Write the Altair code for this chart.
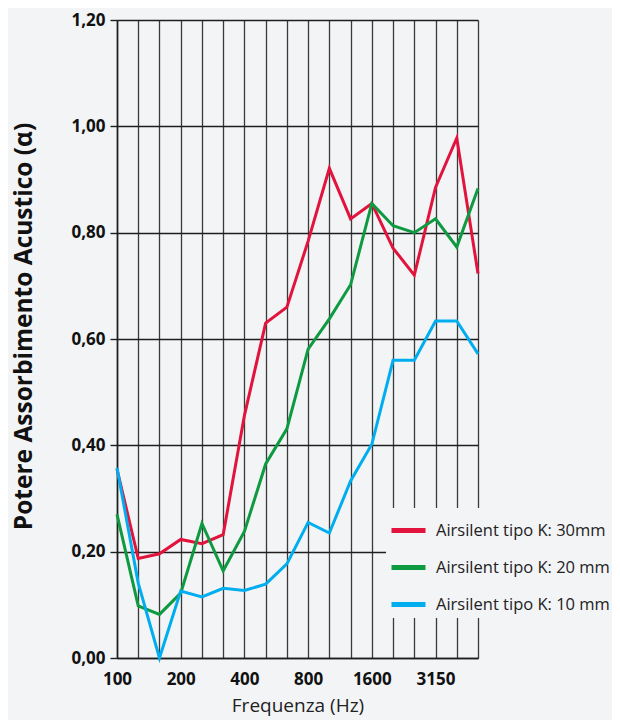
import json
import altair as alt
import pandas as pd

freqs = ["100", "125", "160", "200", "250", "315", "400", "500", "630", "800",
         "1000", "1250", "1600", "2000", "2500", "3150", "4000", "5000"]
shown_labels = ["100", "200", "400", "800", "1600", "3150"]
series = ["Airsilent tipo K: 30mm", "Airsilent tipo K: 20 mm", "Airsilent tipo K: 10 mm"]
alpha_30 = [0.355, 0.187, 0.196, 0.223, 0.215, 0.232, 0.456, 0.630, 0.660, 0.784,
            0.921, 0.826, 0.855, 0.771, 0.720, 0.885, 0.978, 0.723]
alpha_20 = [0.270, 0.098, 0.082, 0.122, 0.253, 0.164, 0.238, 0.365, 0.431, 0.581,
            0.638, 0.702, 0.855, 0.813, 0.800, 0.826, 0.773, 0.883]
alpha_10 = [0.358, 0.141, 0.000, 0.126, 0.115, 0.131, 0.127, 0.139, 0.177, 0.255,
            0.235, 0.333, 0.402, 0.560, 0.560, 0.634, 0.634, 0.572]
y_ticks = [0, 0.2, 0.4, 0.6, 0.8, 1.0, 1.2]
line_colors = ["#e2133d", "#0e9a40", "#00aeef"]

rows = []
for name, vals in zip(series, [alpha_30, alpha_20, alpha_10]):
    for i, (f, v) in enumerate(zip(freqs, vals)):
        rows.append({"serie": name, "freq": f, "idx": i, "alpha": v})
df = pd.DataFrame(rows)

BG = "#f3f4f6"
FONT = "Open Sans"

x_enc = alt.X(
    "freq:O",
    sort=freqs,
    scale=alt.Scale(type="point", padding=0, domain=freqs),
    axis=alt.Axis(
        labelExpr="indexof(" + json.dumps(shown_labels) + ", datum.label) >= 0 ? datum.label : ''",
        labelAngle=0, ticks=False, grid=True, gridColor="#3a3a3a", gridWidth=1.3,
        domainColor="#1e1e1e", domainWidth=1.6, labelOverlap=False,
        labelFont=FONT, labelFontWeight="bold", labelFontSize=17, labelColor="#111",
        labelPadding=13, title="Frequenza (Hz)", titleFont=FONT, titleFontSize=19,
        titleFontWeight="normal", titleColor="#222", titlePadding=9,
    ),
)
y_enc = alt.Y(
    "alpha:Q",
    scale=alt.Scale(domain=[0, 1.2], nice=False, zero=True),
    axis=alt.Axis(
        values=y_ticks,
        labelExpr="replace(format(datum.value, '.2f'), '.', ',')",
        grid=True, gridColor="#1e1e1e", gridWidth=1.4,
        domainColor="#1e1e1e", domainWidth=1.6,
        tickColor="#1e1e1e", tickSize=7, tickWidth=1.4,
        labelFont=FONT, labelFontWeight="bold", labelFontSize=17, labelColor="#111",
        labelPadding=5,
        title="Potere Assorbimento Acustico (α)", titleFont=FONT, titleFontSize=24.5,
        titleFontWeight="bold", titleColor="#111", titleX=-86, titleY=306,
        titleBaseline="alphabetic", titleAngle=270,
    ),
)

chart = alt.Chart(df).mark_line(strokeWidth=3).encode(
    x=x_enc,
    y=y_enc,
    color=alt.Color(
        "serie:N",
        scale=alt.Scale(domain=series, range=line_colors),
        legend=alt.Legend(
            title=None, orient="none", legendX=269, legendY=488,
            symbolType="stroke", symbolSize=1156, symbolStrokeWidth=5, symbolOpacity=1,
            labelFont=FONT, labelFontSize=16.5, labelColor="#222", labelOffset=8,
            rowPadding=7, padding=3, fillColor=BG, direction="vertical", labelLimit=300,
        ),
    ),
    order=alt.Order("idx:Q"),
).properties(
    width=361,
    height=638,
    autosize=alt.AutoSizeParams(type="none"),
    padding={"left": 109, "top": 12, "right": 134, "bottom": 62},
    background=BG,
).configure_view(stroke=None)

chart.save("out.html", embed_options={"renderer": "svg", "actions": False})
